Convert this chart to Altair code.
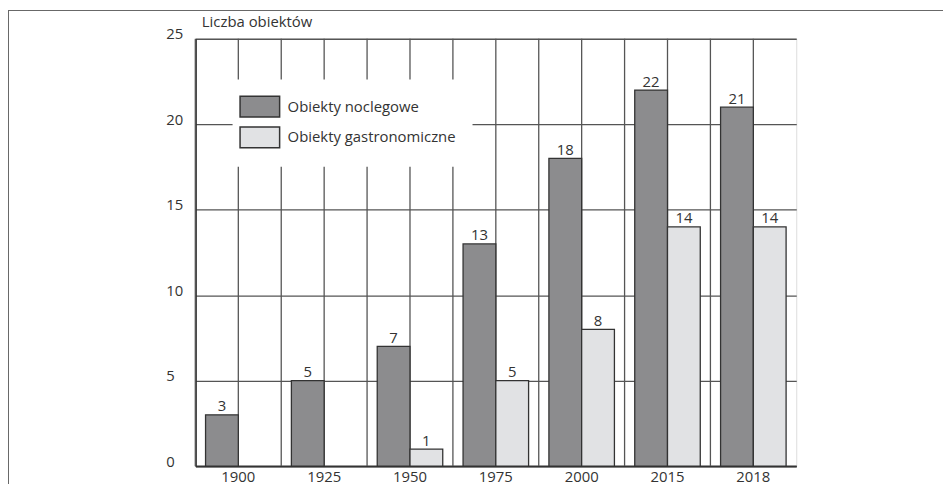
import altair as alt
import pandas as pd

years = ["1900", "1925", "1950", "1975", "2000", "2015", "2018"]
noclegowe = [3, 5, 7, 13, 18, 22, 21]
gastronomiczne = [0, 0, 1, 5, 8, 14, 14]
series_names = ["Obiekty noclegowe", "Obiekty gastronomiczne"]
series_colors = ["#8c8c8e", "#e1e2e4"]
y_ticks = [0, 5, 10, 15, 20, 25]

rows = []
for i, yr in enumerate(years):
    rows.append({"rok": yr, "seria": series_names[0], "liczba": noclegowe[i]})
    rows.append({"rok": yr, "seria": series_names[1], "liczba": gastronomiczne[i]})
df = pd.DataFrame(rows)
df = df[df["liczba"] > 0]
grid_df = pd.DataFrame({"rok": years})
frame_df = pd.DataFrame({"a": [0]})

FONT = "Open Sans"
TXT = "#333333"
GRID = "#555555"

x_scale = alt.Scale(domain=years, paddingInner=0, paddingOuter=0)
xoff_scale = alt.Scale(domain=series_names, paddingInner=0, paddingOuter=0.31)
y_scale = alt.Scale(domain=[0, 25], nice=False)

x_axis = alt.Axis(title=None, labelAngle=0, ticks=False, tickSize=0, grid=False,
                  domainColor="#333333", domainWidth=2, labelFontSize=15,
                  labelColor=TXT, labelFont=FONT, labelPadding=4)
y_axis = alt.Axis(values=y_ticks, grid=True, gridColor=GRID, gridWidth=1.3,
                  domainColor="#333333", domainWidth=2, ticks=False, tickSize=0,
                  labelAlign="left", labelPadding=30, labelBaseline="alphabetic",
                  labelFontSize=15, labelColor=TXT, labelFont=FONT,
                  title="Liczba obiektów", titleAngle=0, titleX=6, titleY=-12,
                  titleAlign="left", titleBaseline="alphabetic", titleFontSize=15,
                  titleFontWeight="normal", titleColor=TXT, titleFont=FONT)

vgrid_edge = alt.Chart(grid_df).mark_rule(color=GRID, strokeWidth=1.3).encode(
    x=alt.X("rok:N", scale=x_scale, axis=x_axis, bandPosition=0)
)
vgrid_mid = alt.Chart(grid_df).mark_rule(color=GRID, strokeWidth=1.3).encode(
    x=alt.X("rok:N", scale=x_scale, axis=x_axis, bandPosition=0.5)
)

bars = alt.Chart(df).mark_bar(stroke="#333333", strokeWidth=1.3, opacity=1).encode(
    x=alt.X("rok:N", scale=x_scale, axis=x_axis),
    xOffset=alt.XOffset("seria:N", scale=xoff_scale),
    y=alt.Y("liczba:Q", scale=y_scale, axis=y_axis),
    color=alt.Color("seria:N",
                    scale=alt.Scale(domain=series_names, range=series_colors),
                    legend=alt.Legend(title=None, orient="none", legendX=37.5, legendY=41,
                                      fillColor="white", padding=16,
                                      symbolType="M-1.9,-1H1.9V1H-1.9Z", symbolSize=441,
                                      symbolStrokeColor="#333333", symbolStrokeWidth=1.5,
                                      symbolOpacity=1, labelLimit=0,
                                      labelFontSize=15, labelColor=TXT, labelFont=FONT,
                                      labelOffset=16.5, rowPadding=4)),
)

labels = alt.Chart(df).mark_text(baseline="alphabetic", dy=-3.5, fontSize=15,
                                 font=FONT, color=TXT).encode(
    x=alt.X("rok:N", scale=x_scale, axis=x_axis),
    xOffset=alt.XOffset("seria:N", scale=xoff_scale),
    y=alt.Y("liczba:Q", scale=y_scale, axis=y_axis),
    text=alt.Text("liczba:Q"),
)

frame_top = alt.Chart(frame_df).mark_rule(color="#666666", strokeWidth=1).encode(
    x=alt.value(-189), x2=alt.value(760), y=alt.value(-28.5)
)
frame_left = alt.Chart(frame_df).mark_rule(color="#666666", strokeWidth=1).encode(
    x=alt.value(-188.5), y=alt.value(-29), y2=alt.value(460)
)

chart = alt.layer(vgrid_edge, vgrid_mid, bars, labels, frame_top, frame_left).properties(
    width=606, height=431,
    autosize=alt.AutoSizeParams(type="none"),
    padding={"left": 189, "top": 29, "right": 148, "bottom": 16},
).configure_view(stroke="#444444", strokeWidth=1.3).configure(font=FONT)

chart.save("out.html", embed_options={"renderer": "svg", "actions": False})
